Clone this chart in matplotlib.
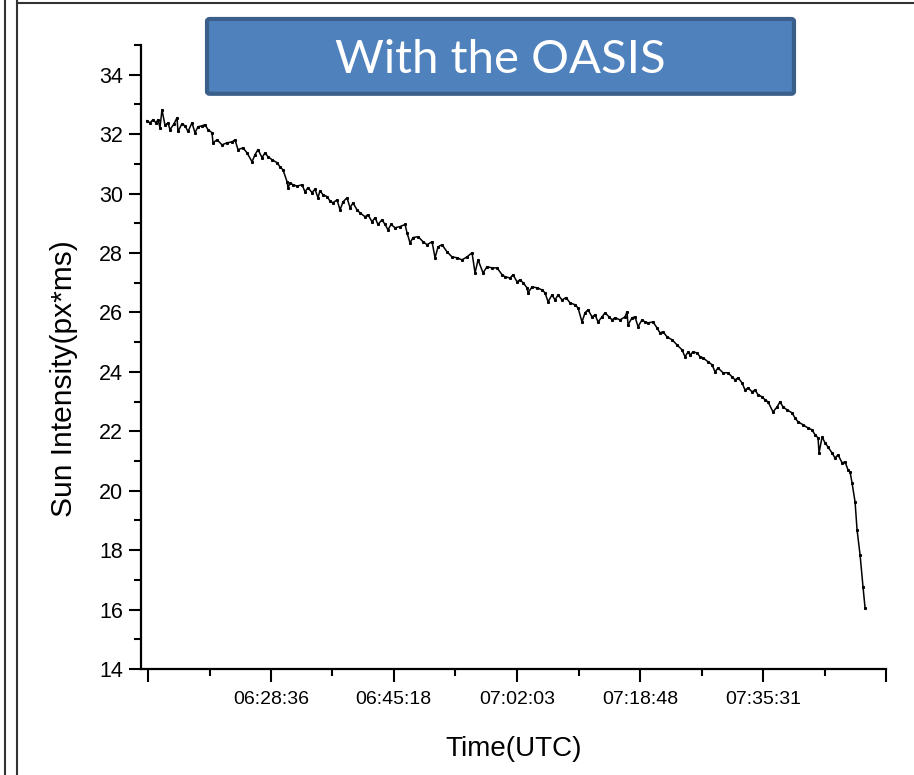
import matplotlib.pyplot as plt
from matplotlib.patches import FancyBboxPatch
from matplotlib.lines import Line2D

# Time in minutes after 06:00 UTC, intensity in px*ms
time_min = [
    11.73, 12.14, 12.55, 12.96, 13.23, 13.50, 13.77, 14.18, 14.59, 14.86,
    15.41, 15.81, 15.95, 16.49, 16.90, 17.31, 17.85, 18.26, 18.67, 19.21,
    19.62, 20.03, 20.57, 20.71, 21.26, 21.94, 22.62, 23.30, 23.70, 24.11,
    24.79, 25.34, 26.02, 26.42, 26.83, 27.38, 27.78, 28.19, 28.74, 29.42,
    29.82, 30.23, 30.78, 30.91, 31.18, 31.59, 32.14, 32.82, 33.22, 33.63,
    34.18, 34.58, 34.99, 35.26, 35.67, 36.22, 36.62, 37.03, 37.58, 37.99,
    38.39, 38.94, 39.35, 39.75, 40.30, 40.71, 41.39, 41.79, 42.34, 42.75,
    43.15, 43.70, 44.11, 44.51, 44.92, 45.47, 46.15, 46.83, 47.10, 47.51,
    47.92, 48.60, 49.28, 49.82, 50.50, 50.91, 51.32, 51.86, 52.54, 53.22,
    53.90, 54.58, 55.26, 55.94, 56.35, 56.76, 57.44, 57.98, 58.66, 59.34,
    60.02, 60.43, 61.11, 61.52, 62.06, 62.47, 62.88, 63.42, 63.56, 64.10,
    64.78, 65.46, 65.87, 66.28, 66.82, 67.23, 67.64, 68.18, 68.73, 69.27,
    69.95, 70.36, 70.90, 71.31, 71.72, 72.26, 72.67, 73.08, 73.62, 74.03,
    74.58, 74.98, 75.39, 76.07, 76.75, 77.02, 77.16, 77.70, 78.11, 78.52,
    79.06, 79.47, 79.88, 80.56, 81.10, 81.51, 81.92, 82.46, 83.14, 83.82,
    84.50, 84.91, 85.32, 85.59, 86.00, 86.54, 86.95, 87.36, 88.04, 88.59,
    88.99, 89.40, 90.08, 90.76, 91.31, 91.71, 92.12, 92.67, 93.07, 93.48,
    94.03, 94.43, 94.84, 95.39, 95.79, 96.20, 96.88, 97.43, 97.83, 98.24,
    98.79, 99.47, 99.87, 100.28, 100.96, 101.64, 102.19, 102.60, 103.00, 103.14,
    103.55, 103.96, 104.36, 104.91, 105.32, 105.72, 106.27, 106.68, 107.08, 107.36,
    107.63, 108.04, 108.31, 108.72, 109.12, 109.40,
]
intensity = [
    32.45, 32.38, 32.49, 32.38, 32.49, 32.22, 32.82, 32.30, 32.38, 32.15,
    32.35, 32.55, 32.09, 32.35, 32.28, 32.09, 32.38, 32.05, 32.25, 32.28,
    32.32, 32.15, 32.05, 31.71, 31.81, 31.64, 31.71, 31.74, 31.81, 31.48,
    31.54, 31.37, 31.07, 31.31, 31.48, 31.21, 31.37, 31.24, 31.14, 31.04,
    30.90, 30.80, 30.40, 30.20, 30.35, 30.30, 30.25, 30.30, 30.06, 30.20,
    30.03, 30.15, 29.86, 30.10, 29.96, 29.90, 29.75, 29.69, 29.79, 29.45,
    29.72, 29.86, 29.52, 29.69, 29.45, 29.35, 29.22, 29.29, 29.05, 29.19,
    28.96, 29.12, 28.96, 28.78, 28.96, 28.85, 28.89, 28.96, 28.68, 28.34,
    28.52, 28.55, 28.38, 28.28, 28.38, 27.84, 28.21, 28.28, 28.04, 27.87,
    27.84, 27.77, 27.87, 28.01, 27.33, 27.77, 27.33, 27.54, 27.50, 27.50,
    27.27, 27.20, 27.16, 27.27, 27.03, 27.10, 27.00, 26.83, 26.66, 26.86,
    26.83, 26.76, 26.66, 26.36, 26.59, 26.42, 26.59, 26.42, 26.50, 26.32,
    26.26, 26.15, 25.68, 25.99, 26.09, 25.85, 25.92, 25.68, 25.85, 25.99,
    25.85, 25.75, 25.82, 25.75, 25.85, 26.02, 25.58, 25.82, 25.85, 25.52,
    25.75, 25.68, 25.65, 25.68, 25.48, 25.31, 25.35, 25.18, 25.08, 24.91,
    24.74, 24.51, 24.67, 24.57, 24.67, 24.64, 24.51, 24.47, 24.34, 24.24,
    24.00, 24.13, 23.97, 23.97, 23.83, 23.73, 23.80, 23.63, 23.39, 23.46,
    23.33, 23.39, 23.23, 23.16, 23.06, 22.99, 22.65, 22.82, 22.99, 22.82,
    22.72, 22.62, 22.45, 22.32, 22.22, 22.11, 22.05, 21.88, 21.78, 21.27,
    21.81, 21.61, 21.47, 21.27, 21.10, 21.21, 20.94, 20.97, 20.70, 20.63,
    20.26, 19.62, 18.68, 17.84, 16.76, 16.05,
]

# x ticks (minutes after 06:00); outer ones carry no label
major_ticks = [11.87, 28.60, 45.30, 62.05, 78.80, 95.52, 112.25]
tick_labels = ["", "06:28:36", "06:45:18", "07:02:03", "07:18:48", "07:35:31", ""]

plt.rcParams['font.family'] = ['Liberation Sans', 'DejaVu Sans']

fig = plt.figure(figsize=(9.14, 7.75), dpi=100)
ax = fig.add_axes([0.1543, 0.1368, 0.8151, 0.8051])

ax.plot(time_min, intensity, color="black", linewidth=1.1,
        marker="s", markersize=1.2)

ax.set_xlim(10.92, 112.25)
ax.set_ylim(14, 35)
ax.set_yticks(range(14, 35, 2))
ax.set_yticks(range(15, 36, 2), minor=True)
ax.set_xticks(major_ticks)
ax.set_xticklabels(tick_labels)
mids = [(a + b) / 2 for a, b in zip(major_ticks[:-1], major_ticks[1:])]
ax.set_xticks(mids, minor=True)

ax.spines["top"].set_visible(False)
ax.spines["right"].set_visible(False)
for s in ["left", "bottom"]:
    ax.spines[s].set_linewidth(1.6)
ax.tick_params(which="major", direction="out", length=9, width=1.5)
ax.tick_params(which="minor", direction="out", length=5, width=1.5)
ax.tick_params(axis="y", labelsize=15.5, pad=4)
ax.tick_params(axis="x", labelsize=14, pad=7)

ax.set_xlabel("Time(UTC)", fontsize=20, labelpad=20)
ax.set_ylabel("Sun Intensity(px*ms)", fontsize=21.5)
ax.yaxis.set_label_coords(-0.085, 0.466)

# title box
box = FancyBboxPatch((0.2265, 0.8790), 0.6422, 0.0965,
                     boxstyle="round,pad=0,rounding_size=0.003",
                     transform=fig.transFigure, facecolor="#4F81BD",
                     edgecolor="#3A5F8B", linewidth=3, zorder=5)
fig.patches.append(box)
fig.text(0.547, 0.922, "With the OASIS", color="white", fontsize=34,
         family=["Lato", "DejaVu Sans"], ha="center", va="center", zorder=6)

# page frame lines
for x in [0.005, 0.019]:
    fig.lines.append(Line2D([x, x], [0, 1], transform=fig.transFigure,
                            color="#333333", linewidth=1.5))
fig.lines.append(Line2D([0.019, 1], [0.9955, 0.9955], transform=fig.transFigure,
                        color="#333333", linewidth=1.5))

fig.savefig("out.png", dpi=100)
